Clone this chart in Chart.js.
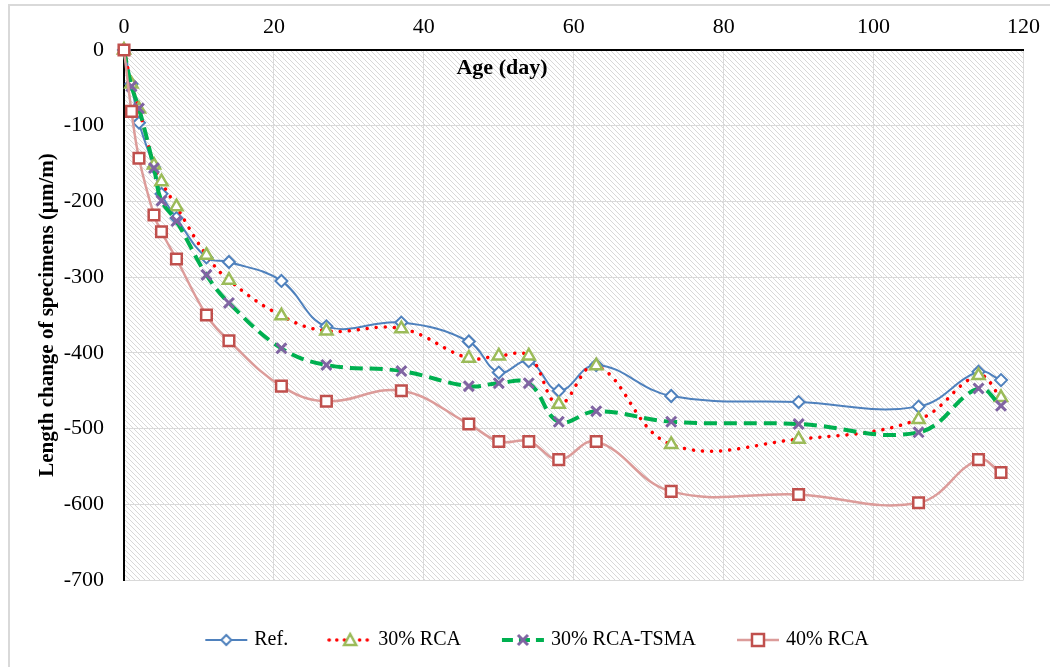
<!DOCTYPE html>
<html>
<head>
<meta charset="utf-8">
<script src="https://cdn.jsdelivr.net/npm/chart.js@4"></script>
<style>
  html, body { margin: 0; padding: 0; background: #fff; }
  #wrap { width: 1050px; height: 667px; position: relative; }
</style>
</head>
<body>
<div id="wrap"><canvas id="chart" width="1050" height="667"></canvas></div>
<script>
// age of the specimens (days)
const days = [0, 1, 2, 4, 5, 7, 11, 14, 21, 27, 37, 46, 50, 54, 58, 63, 73, 90, 106, 114, 117];

// length change (µm/m)
const refVals   = [0, -45, -96, -155, -190, -222, -274, -280, -305, -365, -360, -385, -426, -411, -450, -416, -457, -465, -471, -425, -436];
const rca30Vals = [0, -45, -78, -152, -174, -207, -271, -304, -351, -371, -368, -407, -404, -404, -468, -417, -521, -514, -488, -430, -459];
const tsmaVals  = [0, -48, -77, -156, -199, -226, -297, -334, -394, -416, -424, -444, -440, -440, -491, -477, -491, -494, -505, -447, -470];
const rca40Vals = [0, -81, -143, -218, -240, -276, -350, -384, -444, -464, -450, -494, -517, -517, -541, -517, -583, -587, -598, -541, -558];

const seriesNames = ['Ref.', '30% RCA', '30% RCA-TSMA', '40% RCA'];
const xTicks = [0, 20, 40, 60, 80, 100, 120];
const yTicks = [0, -100, -200, -300, -400, -500, -600, -700];

const FONT = "'Liberation Serif', 'Times New Roman', serif";

function toPoints(vals) {
  return days.map((d, i) => ({ x: d, y: vals[i] }));
}

// hatched plot background
function hatchPattern(ctx) {
  const c = document.createElement('canvas');
  c.width = 5; c.height = 5;
  const g = c.getContext('2d');
  g.fillStyle = '#ffffff';
  g.fillRect(0, 0, 5, 5);
  g.strokeStyle = '#d8d8d8';
  g.lineWidth = 1;
  g.beginPath();
  g.moveTo(-1, -1); g.lineTo(6, 6);
  g.moveTo(-1, 4); g.lineTo(1, 6);
  g.moveTo(4, -1); g.lineTo(6, 1);
  g.stroke();
  return ctx.createPattern(c, 'repeat');
}

// small legend symbols: line sample + marker
function legendSymbol(lineColor, dash, width, cap, drawMarker) {
  const c = document.createElement('canvas');
  c.width = 46; c.height = 18;
  const g = c.getContext('2d');
  g.strokeStyle = lineColor;
  g.lineWidth = width;
  g.lineCap = cap;
  g.setLineDash(dash);
  g.beginPath();
  g.moveTo(2, 9); g.lineTo(44, 9);
  g.stroke();
  g.setLineDash([]);
  drawMarker(g, 23, 9);
  return c;
}

const symbols = [
  legendSymbol('#4f81bd', [], 2, 'butt', (g, x, y) => {
    g.fillStyle = '#fff'; g.strokeStyle = '#4f81bd'; g.lineWidth = 2;
    g.beginPath(); g.moveTo(x, y - 5); g.lineTo(x + 5, y); g.lineTo(x, y + 5); g.lineTo(x - 5, y); g.closePath();
    g.fill(); g.stroke();
  }),
  legendSymbol('#ff0000', [0.1, 7.5], 3.5, 'round', (g, x, y) => {
    g.fillStyle = '#fff'; g.strokeStyle = '#9bbb59'; g.lineWidth = 2.5;
    g.beginPath(); g.moveTo(x, y - 6); g.lineTo(x + 6, y + 5); g.lineTo(x - 6, y + 5); g.closePath();
    g.fill(); g.stroke();
  }),
  legendSymbol('#00b050', [11, 6], 4, 'butt', (g, x, y) => {
    g.strokeStyle = '#8064a2'; g.lineWidth = 3;
    g.beginPath(); g.moveTo(x - 5, y - 5); g.lineTo(x + 5, y + 5); g.moveTo(x + 5, y - 5); g.lineTo(x - 5, y + 5);
    g.stroke();
  }),
  legendSymbol('#dc9c9a', [], 2.5, 'butt', (g, x, y) => {
    g.fillStyle = '#fff'; g.strokeStyle = '#c0504d'; g.lineWidth = 2.5;
    g.fillRect(x - 6, y - 6, 12, 12); g.strokeRect(x - 6, y - 6, 12, 12);
  })
];

const decor = {
  id: 'decor',
  beforeDraw(chart) {
    const { ctx, chartArea: a } = chart;
    ctx.save();
    ctx.fillStyle = hatchPattern(ctx);
    ctx.fillRect(a.left, a.top, a.right - a.left, a.bottom - a.top);
    // outer frame (left and top edges visible)
    ctx.strokeStyle = '#d9d9d9';
    ctx.lineWidth = 2;
    ctx.beginPath();
    ctx.moveTo(9, 667); ctx.lineTo(9, 5); ctx.lineTo(1050, 5);
    ctx.stroke();
    ctx.restore();
  },
  afterDatasetsDraw(chart) {
    const { ctx, chartArea: a } = chart;
    ctx.save();
    ctx.font = 'bold 22px ' + FONT;
    ctx.fillStyle = '#000';
    ctx.textAlign = 'center';
    ctx.textBaseline = 'middle';
    ctx.fillText('Age (day)', 502, a.top + 18);
    ctx.restore();
  },
  afterLayout(chart) {
    // nudge the legend row to where it sits in the original
    const lg = chart.legend;
    lg.left += 12; lg.right += 12;
    lg.top += 6; lg.bottom += 6;
  }
};

new Chart(document.getElementById('chart'), {
  type: 'line',
  data: {
    datasets: [
      {
        label: seriesNames[0], data: toPoints(refVals), order: 4,
        borderColor: '#4f81bd', borderWidth: 2, tension: 0.4,
        pointStyle: 'rectRot', pointRadius: 6, pointBorderWidth: 2,
        pointBorderColor: '#4f81bd', pointBackgroundColor: '#ffffff', clip: false
      },
      {
        label: seriesNames[1], data: toPoints(rca30Vals), order: 3,
        borderColor: '#ff0000', borderWidth: 3.5, borderDash: [0.1, 9], borderCapStyle: 'round', tension: 0.4,
        pointStyle: 'triangle', pointRadius: 7, pointBorderWidth: 2.5,
        pointBorderColor: '#9bbb59', pointBackgroundColor: '#ffffff', clip: false
      },
      {
        label: seriesNames[2], data: toPoints(tsmaVals), order: 2,
        borderColor: '#00b050', borderWidth: 4, borderDash: [13, 7], tension: 0.4,
        pointStyle: 'crossRot', pointRadius: 7, pointBorderWidth: 3,
        pointBorderColor: '#8064a2', pointBackgroundColor: '#8064a2', clip: false
      },
      {
        label: seriesNames[3], data: toPoints(rca40Vals), order: 1,
        borderColor: '#dc9c9a', borderWidth: 2.5, tension: 0.4,
        pointStyle: 'rect', pointRadius: 7.5, pointBorderWidth: 2.5,
        pointBorderColor: '#c0504d', pointBackgroundColor: '#ffffff', clip: false
      }
    ]
  },
  options: {
    responsive: false,
    animation: false,
    layout: { padding: { left: 24, right: 21, top: 0, bottom: 13 } },
    scales: {
      x: {
        type: 'linear', position: 'top', min: 0, max: 120,
        afterBuildTicks: s => { s.ticks = xTicks.map(v => ({ value: v })); },
        afterFit: s => { s.height = 50; },
        grid: { color: '#d9d9d9', lineWidth: 1, drawTicks: false },
        border: { color: '#000', width: 2 },
        ticks: { color: '#000', padding: 10, font: { family: FONT, size: 22 } }
      },
      y: {
        type: 'linear', min: -700, max: 0,
        afterBuildTicks: s => { s.ticks = yTicks.map(v => ({ value: v })); },
        afterFit: s => { s.width = 100; },
        grid: { color: '#d9d9d9', lineWidth: 1, drawTicks: false },
        border: { color: '#000', width: 2 },
        ticks: { color: '#000', padding: 20, font: { family: FONT, size: 22 } },
        title: {
          display: true, text: 'Length change of specimens (µm/m)', color: '#000',
          font: { family: FONT, size: 21, weight: 'bold' }, padding: { top: 11, bottom: 0 }
        }
      }
    },
    plugins: {
      tooltip: { enabled: false },
      legend: {
        position: 'bottom',
        labels: {
          color: '#000',
          font: { family: FONT, size: 20 },
          usePointStyle: true,
          pointStyleWidth: 36,
          padding: 44,
          sort: (a, b) => a.datasetIndex - b.datasetIndex,
          generateLabels: chart => {
            const items = Chart.defaults.plugins.legend.labels.generateLabels(chart);
            items.forEach(it => { it.pointStyle = symbols[it.datasetIndex]; });
            return items;
          }
        }
      }
    }
  },
  plugins: [decor]
});
</script>
</body>
</html>
